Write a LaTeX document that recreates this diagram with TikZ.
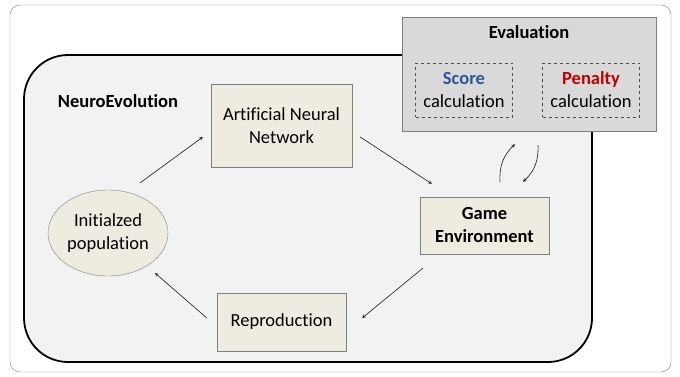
\documentclass[tikz,border=0pt]{standalone}
\usepackage{fontspec}
\setmainfont[Ligatures=NoCommon]{Carlito}
\usetikzlibrary{positioning,shapes.geometric,arrows}

\definecolor{boxfill}{HTML}{EEECE1}
\definecolor{boxline}{HTML}{7F7F7F}
\definecolor{regionfill}{HTML}{F2F2F2}
\definecolor{evalfill}{HTML}{D9D9D9}
\definecolor{scoreblue}{HTML}{2E5597}
\definecolor{penaltyred}{HTML}{C00000}

\tikzset{
  stage/.style={rectangle,draw=boxline,fill=boxfill,align=center,inner sep=2pt},
  calcbox/.style={rectangle,draw=black!70,dashed,align=center,minimum width=97pt,minimum height=54pt,inner sep=1pt},
  flow/.style={->,>=stealth,draw=black!90,line width=0.6pt}
}

\begin{document}
\begin{tikzpicture}[x=1pt,y=-1pt,font=\fontsize{18.5}{23}\selectfont]
			\useasboundingbox (0,0) rectangle (680,377);
			% outer frame and the NeuroEvolution region
			\draw[boxline,fill=white,rounded corners=10pt] (10,5) rectangle (671,372);
			\draw[black,line width=1.8pt,fill=regionfill,rounded corners=44pt] (24,55) rectangle (592,362);
			\node[font=\fontsize{18.5}{23}\selectfont\bfseries] (neuro) at (118,101) {NeuroEvolution};
			% evaluation block
			\node[rectangle,draw=boxline,fill=evalfill,minimum width=254pt,minimum height=114pt] (eval) at (529,74) {};
			\node[font=\fontsize{18.5}{23}\selectfont\bfseries,below=5pt of eval.north] (evaltitle) {Evaluation};
			\node[calcbox] (score) at (464,90) {\textcolor{scoreblue}{\bfseries Score}\\calculation};
			\node[calcbox] (penalty) at (591,90) {\textcolor{penaltyred}{\bfseries Penalty}\\calculation};
			% loop
			\node[stage,minimum width=141pt,minimum height=83pt] (ann) at (281.5,125.5) {Artificial Neural\\Network};
			\node[stage,minimum width=129pt,minimum height=57pt,font=\fontsize{18.5}{23}\selectfont\bfseries] (game) at (484.5,225.5) {Game\\Environment};
			\node[stage,minimum width=129pt,minimum height=58pt] (repro) at (281.5,322) {Reproduction};
			\node[ellipse,draw=boxline,fill=boxfill,minimum width=120pt,minimum height=86pt,inner sep=0pt,align=center] (pop) at (108,233) {Initialzed\\population};
			\draw[flow] ([xshift=32pt,yshift=50pt]pop.center) -- ([xshift=-8pt,yshift=-11.5pt]ann.west);
			\draw[flow] ([xshift=8pt,yshift=-11.5pt]ann.east) -- ([xshift=12pt,yshift=13pt]game.north west);
			\draw[flow] ([xshift=3pt,yshift=-14pt]game.south west) -- ([xshift=16pt,yshift=4pt]repro.east);
			\draw[flow] ([xshift=-10pt,yshift=4pt]repro.west) -- ([xshift=47pt,yshift=-40pt]pop.center);
			\draw[flow] ([xshift=15.5pt,yshift=15pt]game.north) to[bend left=25] ([xshift=-14pt,yshift=-13pt]eval.south);
			\draw[flow] ([xshift=9pt,yshift=-14pt]eval.south) to[bend left=25] ([xshift=38.5pt,yshift=15pt]game.north);
		\end{tikzpicture}
\end{document}
